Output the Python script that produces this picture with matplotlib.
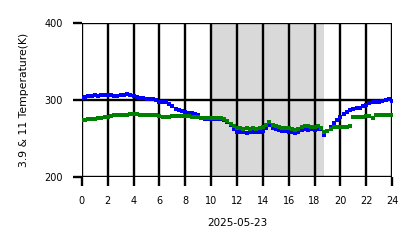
import numpy as np
import matplotlib
matplotlib.use('Agg')
import matplotlib.pyplot as plt

# hours of the day, 15 minute steps
hours = np.arange(0, 24.01, 0.25)

# 3.9 um brightness temperature (K)
temp_39 = [
    303, 304, 305, 305, 306, 305, 306, 306, 306, 306, 305, 305,
    306, 307, 308, 307, 305, 304, 303, 303, 302, 301, 301, 300,
    298, 297, 297, 295, 292, 289, 287, 286, 284, 283, 283, 282,
    280, 277, 276, 275, 275, 275, 275, 275, 274, 272, 267, 262,
    259, 259, 258, 257, 258, 258, 258, 258, 260, 264, 267, 264,
    262, 261, 260, 260, 259, 258, 257, 259, 261, 262, 261, 262,
    261, 262, 262, 255, 260, 265, 270, 274, 278, 282, 285, 287,
    289, 290, 290, 292, 293, 296, 297, 297, 298, 299, 300, 301,
    299,
]

# 11 um brightness temperature (K)
temp_11 = [
    274, 274, 275, 275, 276, 277, 277, 278, 278, 279, 280, 280,
    281, 281, 281, 282, 282, 282, 281, 281, 280, 280, 280, 280,
    279, 278, 278, 278, 279, 279, 279, 279, 279, 279, 278, 278,
    278, 277, 277, 277, 277, 277, 277, 277, 276, 273, 269, 266,
    264, 264, 263, 264, 263, 264, 263, 264, 265, 268, 272, 268,
    266, 265, 264, 264, 264, 263, 261, 262, 265, 266, 266, 265,
    265, 266, 264, 258, 260, 262, 265, 265, 265, 265, 265, 266,
    278, 278, 278, 278, 279, 279, 277, 280, 281, 281, 281, 281,
    281,
]

night_start, night_end = 10.0, 18.7

fig = plt.figure(figsize=(4.18, 2.48), dpi=100)
ax = fig.add_axes([0.196, 0.286, 0.742, 0.621])

ax.axvspan(night_start, night_end, color='#d9d9d9', lw=0, zorder=1)

ax.plot(hours, temp_39, 's', color='blue', markersize=3.4, mew=0, zorder=3)
ax.plot(hours, temp_11, 's', color='green', markersize=3.2, mew=0, zorder=4)

ax.set_xlim(0, 24)
ax.set_ylim(200, 400)
ax.set_xticks(range(0, 25, 2))
ax.set_yticks([200, 300, 400])

for s in ax.spines.values():
    s.set_visible(False)

ax.grid(True, color='black', lw=1.7)
ax.tick_params(length=6.5, width=1.7, pad=7, labelsize=7, colors='black')

ax.set_xlabel('2025-05-23', fontsize=7.5, labelpad=9)
ax.set_ylabel('3.9 & 11 Temperature(K)', fontsize=7.8, labelpad=11)

fig.savefig('out.png', dpi=100)
